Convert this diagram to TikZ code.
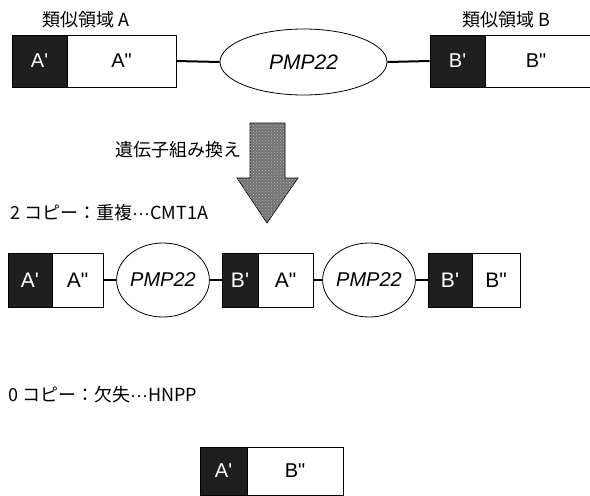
\documentclass[tikz,border=0pt]{standalone}
\usepackage{fontspec}
\setmainfont{Liberation Sans}[Ligatures=TeXOff]
\newfontfamily\jp{Noto Sans CJK JP}
\usetikzlibrary{shapes.geometric,patterns}
\newcommand{\pr}{\char39}
\newcommand{\dpr}{\char34}
\newcommand{\mdots}{{\rmfamily\char"B7\char"B7\char"B7}}
\begin{document}
\begin{tikzpicture}[x=1pt,y=-1pt,
 box/.style={draw=black,line width=0.8pt,inner sep=0pt,font=\fontsize{20}{20}\selectfont},
 dark/.style={box,fill=black!88,text=white},
 light/.style={box,fill=white},
 gene/.style={ellipse,draw=black,line width=0.8pt,fill=white,inner sep=0pt,font=\fontsize{20}{20}\selectfont\itshape},
 link/.style={line width=2pt},
 lab/.style={font=\jp\fontsize{18}{18}\selectfont,inner sep=0pt,anchor=west}]
\useasboundingbox (0,0) rectangle (590,496);
% row 1
\node[lab] (la) at (42,20) {類似領域\ A};
\node[lab] (lb) at (462,20) {類似領域\ B};
\node[dark,minimum width=55pt,minimum height=52pt] (a1) at (39.5,61) {A\pr};
\node[light,minimum width=109pt,minimum height=52pt] (a2) at (121.5,61) {A\dpr};
\node[gene,minimum width=167pt,minimum height=66pt,font=\fontsize{21}{21}\selectfont\itshape] (g1) at (303.5,62) {PMP22};
\node[dark,minimum width=55pt,minimum height=52pt] (b1) at (457.5,61) {B\pr};
\node[light,minimum width=112pt,minimum height=52pt] (b2) at (541,61) {\hspace*{-10pt}B\dpr};
\draw[link] (a2.east) -- (g1.west);
\draw[link] (g1.east) -- (b1.west);
% arrow
\draw[line width=0.6pt,fill=black!55,postaction={pattern=crosshatch dots,pattern color=white!70!black}]
 (250,123) -- (285,123) -- (285,178) -- (298,178) -- (267,223) -- (237,178) -- (250,178) -- cycle;
\node[lab] (rec) at (115,150) {遺伝子組み換え};
% row 2
\node[lab] (l2) at (10,213) {2 コピー：重複\mdots CMT1A};
\begin{scope}[box/.append style={font=\fontsize{21}{21}\selectfont},gene/.append style={font=\fontsize{20}{20}\selectfont\itshape}]
\node[dark,minimum width=44pt,minimum height=54pt] (a3) at (30,280) {A\pr};
\node[light,minimum width=51pt,minimum height=54pt] (a4) at (77.5,280) {A\dpr};
\node[gene,minimum width=90pt,minimum height=74pt] (g2) at (163,280) {PMP22};
\node[dark,minimum width=36pt,minimum height=54pt] (b3) at (240,280) {B\pr};
\node[light,minimum width=55pt,minimum height=54pt] (a5) at (285.5,280) {A\dpr};
\node[gene,minimum width=84pt,minimum height=74pt] (g3) at (369,280) {PMP22};
\node[dark,minimum width=44pt,minimum height=54pt] (b4) at (450,280) {B\pr};
\node[light,minimum width=48pt,minimum height=54pt] (b5) at (496,280) {B\dpr};
\end{scope}
\draw[link,line width=2.4pt] (a4.east) -- (g2.west);
\draw[link,line width=2.4pt] (g2.east) -- (b3.west);
\draw[link,line width=2.4pt] (a5.east) -- (g3.west);
\draw[link,line width=2.4pt] (g3.east) -- (b4.west);
% row 3
\node[lab] (l3) at (8,395) {0 コピー：欠失\mdots HNPP};
\node[dark,minimum width=47pt,minimum height=48pt] (a6) at (223.5,471) {A\pr};
\node[light,minimum width=96pt,minimum height=48pt] (b6) at (295,471) {B\dpr};
\end{tikzpicture}
\end{document}
